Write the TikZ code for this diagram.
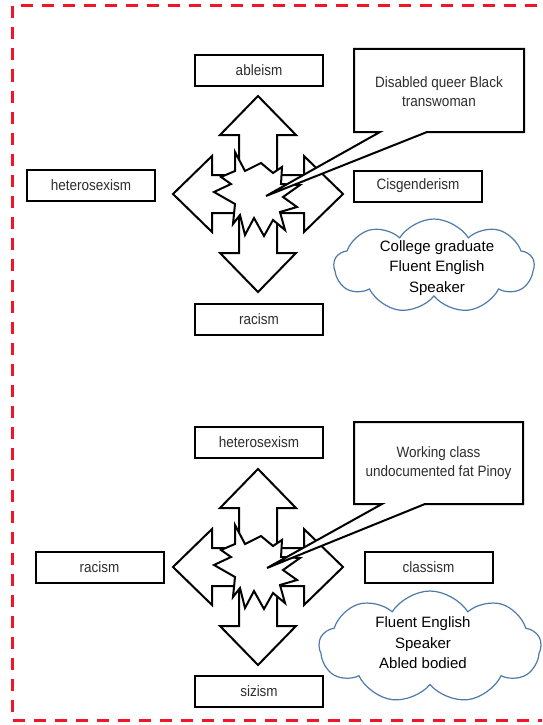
\documentclass[tikz,border=0pt]{standalone}
\usepackage{fontspec}
\setmainfont{Liberation Sans}
\newfontfamily\narrowfont[FakeStretch=0.9]{Liberation Sans}
\usetikzlibrary{shapes.symbols}
\definecolor{borderred}{RGB}{240,22,40}
\definecolor{cloudblue}{RGB}{78,122,170}
\definecolor{txtgray}{RGB}{45,45,45}
\tikzset{
  labelbox/.style={draw=black, line width=2pt, fill=white, minimum width=128pt, minimum height=31pt, inner sep=0pt, font=\narrowfont\fontsize{15}{19}\selectfont, text=txtgray},
  calltext/.style={align=center, inner sep=0pt, font=\narrowfont\fontsize{15}{19}\selectfont, text=txtgray},
  callshape/.style={draw=black, line width=2pt, fill=white, line join=miter},
  crossshape/.style={draw=black, line width=2pt, fill=white, line join=miter},
  cloudshape/.style={cloud, cloud puffs=9, cloud puff arc=115, cloud ignores aspect, draw=cloudblue, line width=1.2pt, fill=white, inner sep=0pt},
  cloudtext/.style={align=center, inner sep=0pt, font=\fontsize{15}{20.5}\selectfont, text=black}
}
\begin{document}
\begin{tikzpicture}[x=1pt,y=-1pt]
\useasboundingbox (0,0) rectangle (542,725);
\clip (0,0) rectangle (542,725);
% border
\draw[borderred, line width=3pt, dash pattern=on 12pt off 9pt] (600,6) -- (12.5,6) -- (12.5,720) -- (600,720);

% label boxes
\node[labelbox] (ableism) at (259,70.5) {ableism};
\node[labelbox] (hetA) at (91,185) {heterosexism};
\node[labelbox] (cis) at (418,186) {Cisgenderism};
\node[labelbox] (racA) at (259,319) {racism};
\node[labelbox] (hetB) at (259,442.5) {heterosexism};
\node[labelbox] (racB) at (99.5,567.5) {racism};
\node[labelbox] (class) at (428.5,567) {classism};
\node[labelbox] (siz) at (259,691) {sizism};

% crosses and starbursts
\foreach \cy in {194,567} {
  \begin{scope}[shift={(258,\cy)}]
    \draw[crossshape] (0,-98) -- (38,-59) -- (19,-59) -- (19,-19) -- (46,-19) -- (46,-38) -- (85,0) -- (46,38) -- (46,19) -- (19,19) -- (19,59) -- (38,59) -- (0,98) -- (-38,59) -- (-19,59) -- (-19,19) -- (-46,19) -- (-46,38) -- (-85,0) -- (-46,-38) -- (-46,-19) -- (-19,-19) -- (-19,-59) -- (-38,-59) -- cycle;
    \draw[crossshape] (-23,-42) -- (-13,-23) -- (3,-31) -- (15,-21) -- (24,-27) -- (23,-10) -- (42,-9) -- (25,3) -- (39,13) -- (22,18) -- (27,36) -- (15,26) -- (6,42) -- (-4,24) -- (-13,41) -- (-18,21) -- (-25,30) -- (-23,10) -- (-44,-2) -- (-27,-10) -- (-37,-17) -- (-23,-23) -- cycle;
  \end{scope}
}

% callouts
\draw[callshape] (354,49) -- (524,49) -- (524,132) -- (427,132) -- (266,196) -- (380,132) -- (354,132) -- cycle;
\node[calltext] (callA) at (439,92) {Disabled queer Black\\transwoman};
\draw[callshape] (354,422) -- (523,422) -- (523,504) -- (425,504) -- (267,568) -- (382,504) -- (354,504) -- cycle;
\node[calltext] (callB) at (438.5,463.5) {Working class\\undocumented fat Pinoy};

% clouds
\node[cloudshape, minimum width=200pt, minimum height=94pt] (cloudA) at (434,266) {};
\node[cloudtext] (cloudAtext) at (437,268) {College graduate\\Fluent English\\Speaker};
\node[cloudshape, minimum width=222pt, minimum height=112pt] (cloudB) at (430,647) {};
\node[cloudtext] (cloudBtext) at (423,643) {Fluent English\\Speaker\\Abled bodied};
\end{tikzpicture}
\end{document}
